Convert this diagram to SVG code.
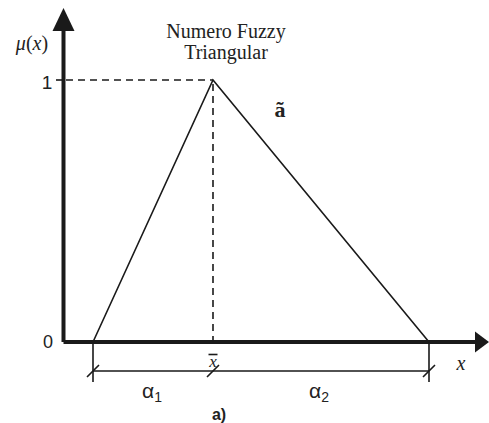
<svg xmlns="http://www.w3.org/2000/svg" width="489" height="423" viewBox="0 0 489 423">
<style>
.ax{stroke:#1a1a1a;stroke-width:4;fill:none}
.ln{stroke:#1a1a1a;stroke-width:1.6;fill:none}
.ds{stroke:#1a1a1a;stroke-width:1.6;fill:none;stroke-dasharray:7,5}
.sans{font-family:"Liberation Sans",Arial,sans-serif;fill:#222}
.serif{font-family:"Liberation Serif","Times New Roman",serif;fill:#222}
</style>
<rect width="489" height="423" fill="#fff"/>
<g id="axes">
<path class="ax" d="M63.5,342 V28 M63.5,342 H478"/>
<polygon points="63.5,8 52.5,31 74.5,31" fill="#1a1a1a"/>
<polygon points="489,342 475,331.5 475,352.5" fill="#1a1a1a"/>
</g>
<g id="connectors">
<path class="ln" d="M93,342 L213,80 L429,342"/>
<path class="ds" d="M66,80 H213 M213,84 V342"/>
<path class="ln" d="M93,342 V382 M429,342 V382 M93,371 H429"/>
<path class="ln" d="M87,377 L99,365 M207,377 L219,365 M423,377 L435,365"/>
<path class="ln" d="M56,80 H63"/>
</g>
<g id="labels">
<text class="serif" x="32" y="50" font-size="20" text-anchor="middle"><tspan font-style="italic">μ</tspan>(<tspan font-style="italic">x</tspan>)</text>
<text class="sans" x="47" y="89" font-size="19" text-anchor="middle">1</text>
<text class="sans" x="48" y="348" font-size="18" text-anchor="middle">0</text>
<text class="serif" x="226" y="38" font-size="20" text-anchor="middle">Numero Fuzzy</text>
<text class="serif" x="226" y="59" font-size="20" text-anchor="middle">Triangular</text>
<text class="serif" x="280" y="117" font-size="22" font-weight="bold" text-anchor="middle">ã</text>
<text class="serif" x="213" y="367" font-size="17" font-style="italic" text-anchor="middle">x</text>
<path class="ln" d="M208.5,354.5 H217.5" stroke-width="1.3"/>
<text class="serif" x="461" y="370" font-size="20" font-style="italic" text-anchor="middle">x</text>
<text class="sans" x="142" y="398" font-size="21">α<tspan font-size="14" dy="4">1</tspan></text>
<text class="sans" x="309" y="398" font-size="21">α<tspan font-size="14" dy="4">2</tspan></text>
<text class="sans" x="219" y="420" font-size="16" font-weight="bold" text-anchor="middle">a)</text>
</g>
</svg>
